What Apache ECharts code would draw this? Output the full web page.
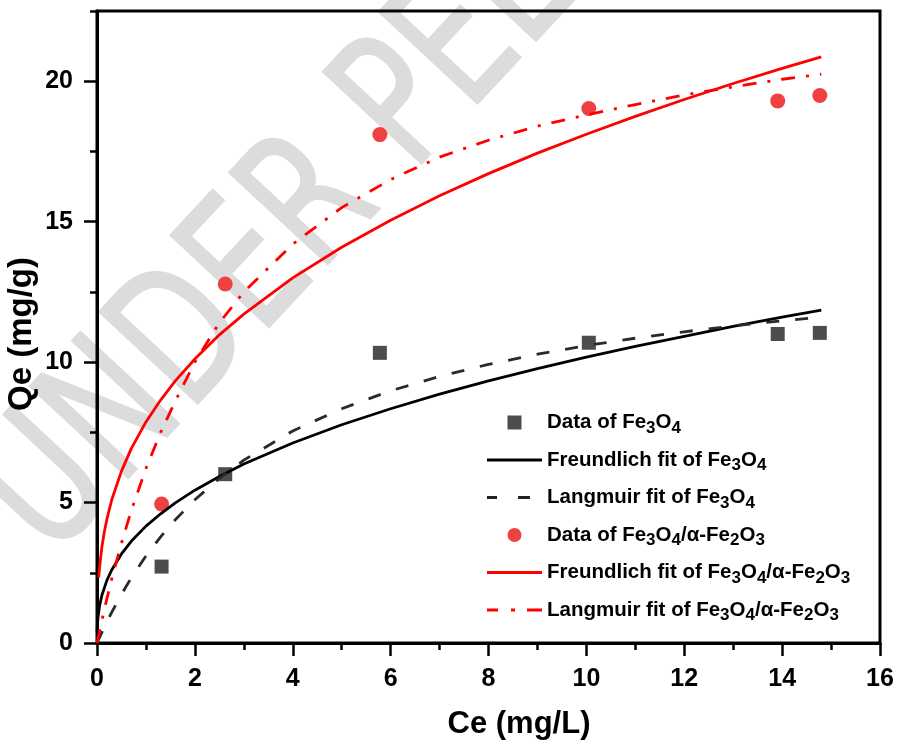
<!DOCTYPE html>
<html>
<head>
<meta charset="utf-8">
<script src="https://cdn.jsdelivr.net/npm/echarts@6/dist/echarts.min.js"></script>
<style>
html,body{margin:0;padding:0;background:#fff;}
#chart{width:898px;height:748px;}
</style>
</head>
<body>
<div id="chart"></div>
<script>
// ---- data ----
const ceData = [1.32, 2.62, 5.78, 10.05, 13.91, 14.77];
const qeFe3O4 = [2.72, 6.01, 10.33, 10.69, 11.00, 11.04];
const qeComposite = [4.95, 12.78, 18.10, 19.03, 19.30, 19.49];

const freundFe3O4X = [0.002,0.005,0.01,0.02,0.05,0.1,0.2,0.3,0.5,0.7,1,1.3,1.6,2,2.5,3,4,5,6,7,8,9,10,11,12,13,14,14.8];
const freundFe3O4Y = [0.37,0.53,0.69,0.91,1.30,1.70,2.22,2.60,3.17,3.62,4.16,4.60,4.99,5.44,5.93,6.37,7.12,7.77,8.34,8.86,9.33,9.77,10.18,10.56,10.92,11.27,11.60,11.85];

const langFe3O4X = [0,0.1,0.2,0.3,0.5,0.7,1,1.3,1.6,2,2.5,3,4,5,6,7,8,9,10,11,12,13,14,14.8];
const langFe3O4Y = [0,0.38,0.75,1.09,1.73,2.32,3.10,3.78,4.39,5.10,5.86,6.51,7.55,8.34,8.98,9.49,9.92,10.28,10.59,10.85,11.08,11.29,11.47,11.60];

const freundCompX = [0.035,0.05,0.1,0.15,0.2,0.3,0.5,0.7,1,1.3,1.6,2,2.5,3,4,5,6,7,8,9,10,11,12,13,14,14.8];
const freundCompY = [2.34,2.66,3.42,3.96,4.39,5.09,6.12,6.92,7.87,8.65,9.33,10.11,10.97,11.71,13.00,14.09,15.05,15.92,16.71,17.44,18.11,18.75,19.35,19.92,20.46,20.87];

const langCompX = [0,0.1,0.2,0.3,0.5,0.7,1,1.3,1.6,2,2.5,3,4,5,6,7,8,9,10,11,12,13,14,14.8];
const langCompY = [0,0.81,1.56,2.27,3.56,4.71,6.21,7.50,8.61,10.00,11.40,12.50,14.20,15.50,16.50,17.30,17.90,18.40,18.80,19.17,19.51,19.80,20.07,20.25];

const seriesNames = [
  'Data of Fe3O4',
  'Freundlich fit of Fe3O4',
  'Langmuir fit of Fe3O4',
  'Data of Fe3O4/α-Fe2O3',
  'Freundlich fit of Fe3O4/α-Fe2O3',
  'Langmuir fit of Fe3O4/α-Fe2O3'
];
const xTicks = [0, 2, 4, 6, 8, 10, 12, 14, 16];
const yTicks = [0, 5, 10, 15, 20];

function pairs(xs, ys) { return xs.map((x, i) => [x, ys[i]]); }

const FONT = '"Liberation Sans", Arial, Helvetica, sans-serif';
const chart = echarts.init(document.getElementById('chart'), null, {renderer: 'canvas'});

function legendText(name) {
  return '{t|' + name.replace(/(\d)/g, '}{s|$1}{t|') + '}';
}

// legend icon shapes (filled paths, 55px wide boxes)
const ICON_SQUARE = 'path://M0,0H14V14H0Z';
const ICON_SOLID = 'path://M0,0H55V3H0Z';
const ICON_DASH = 'path://M0,0H10V3H0Z M31,0H43V3H31Z M55,0L55,3';
const ICON_DASHDOT = 'path://M0,0H11V3H0Z M24,0H28V3H24Z M40,0H55V3H40Z';

const option = {
  backgroundColor: '#ffffff',
  animation: false,
  grid: {
    left: 97, right: 18, top: 11, bottom: 105,
    show: true, borderColor: '#000', borderWidth: 3, backgroundColor: 'transparent'
  },
  xAxis: [{
    type: 'value', min: 0, max: 16, interval: 2,
    axisLine: {show: true, onZero: false, lineStyle: {color: '#000', width: 3}},
    axisTick: {show: true, inside: false, length: 13, lineStyle: {color: '#000', width: 2.5}},
    minorTick: {show: true, splitNumber: 2, length: 7, lineStyle: {color: '#000', width: 2.5}},
    splitLine: {show: false},
    axisLabel: {
      margin: 24, color: '#000', fontSize: 25, fontWeight: 'bold', fontFamily: FONT,
      customValues: xTicks
    }
  }],
  yAxis: [{
    type: 'value', min: 0, max: 22.5, interval: 5,
    axisLine: {show: true, onZero: false, lineStyle: {color: '#000', width: 3}},
    axisTick: {show: true, inside: false, length: 13, lineStyle: {color: '#000', width: 2.5}, customValues: yTicks},
    splitLine: {show: false},
    axisLabel: {
      margin: 24, color: '#000', fontSize: 25, fontWeight: 'bold', fontFamily: FONT,
      customValues: yTicks,
      formatter: v => (yTicks.indexOf(v) >= 0 ? String(v) : '')
    }
  }, {
    type: 'value', min: 0, max: 22.5, interval: 2.5, position: 'left',
    axisLine: {show: false},
    axisTick: {show: true, inside: false, length: 7, lineStyle: {color: '#000', width: 2.5}},
    axisLabel: {show: false},
    splitLine: {show: false}
  }],
  legend: {
    orient: 'vertical', left: 487, top: 412, padding: 0,
    itemWidth: 55, itemHeight: 14, itemGap: 13,
    selectedMode: false,
    data: [
      {name: seriesNames[0], icon: ICON_SQUARE, itemStyle: {color: '#4d4d4d', borderWidth: 0}},
      {name: seriesNames[1], icon: ICON_SOLID, itemStyle: {color: '#000', borderWidth: 0}},
      {name: seriesNames[2], icon: ICON_DASH, itemStyle: {color: '#222', borderWidth: 0}},
      {name: seriesNames[3], icon: 'circle', itemStyle: {color: '#ef4141', borderWidth: 0}},
      {name: seriesNames[4], icon: ICON_SOLID, itemStyle: {color: '#ff0000', borderWidth: 0}},
      {name: seriesNames[5], icon: ICON_DASHDOT, itemStyle: {color: '#ff0000', borderWidth: 0}}
    ],
    formatter: legendText,
    textStyle: {
      color: '#000', fontFamily: FONT, fontWeight: 'bold', fontSize: 20.5,
      rich: {
        t: {color: '#000', fontFamily: FONT, fontWeight: 'bold', fontSize: 20.5, lineHeight: 28},
        s: {color: '#000', fontFamily: FONT, fontWeight: 'bold', fontSize: 17, lineHeight: 14, verticalAlign: 'bottom'}
      }
    }
  },
  graphic: [
    {
      type: 'text', z: -10, silent: true,
      x: 16, y: 528, rotation: 47 * Math.PI / 180, scaleX: 0.735,
      style: {
        text: 'UNDER PEER REVIEW', fill: '#dcdcdc', stroke: '#dcdcdc', lineWidth: 2,
        fontFamily: '"DejaVu Sans", sans-serif', fontSize: 185, fontWeight: 'normal',
        textAlign: 'left', textVerticalAlign: 'middle'
      }
    },
    {
      type: 'text', silent: true, x: 519, y: 724,
      style: {
        text: 'Ce (mg/L)', fill: '#000', fontFamily: FONT, fontWeight: 'bold', fontSize: 31,
        textAlign: 'center', textVerticalAlign: 'middle'
      }
    },
    {
      type: 'text', silent: true, x: 22, y: 334, rotation: Math.PI / 2,
      style: {
        text: 'Qe (mg/g)', fill: '#000', fontFamily: FONT, fontWeight: 'bold', fontSize: 33,
        textAlign: 'center', textVerticalAlign: 'middle'
      }
    }
  ],
  series: [
    {
      name: seriesNames[0], type: 'scatter', symbol: 'rect', symbolSize: 14,
      itemStyle: {color: '#4d4d4d', opacity: 1},
      data: pairs(ceData, qeFe3O4)
    },
    {
      name: seriesNames[1], type: 'line', showSymbol: false, symbol: 'none', smooth: false,
      lineStyle: {color: '#000', width: 2.8, type: 'solid'},
      itemStyle: {color: '#000'},
      data: pairs(freundFe3O4X, freundFe3O4Y)
    },
    {
      name: seriesNames[2], type: 'line', showSymbol: false, symbol: 'none', smooth: false,
      lineStyle: {color: '#2a2a2a', width: 2.8, type: [13, 16]},
      itemStyle: {color: '#2a2a2a'},
      data: pairs(langFe3O4X, langFe3O4Y)
    },
    {
      name: seriesNames[3], type: 'scatter', symbol: 'circle', symbolSize: 15,
      itemStyle: {color: '#ef4141', opacity: 1},
      data: pairs(ceData, qeComposite)
    },
    {
      name: seriesNames[4], type: 'line', showSymbol: false, symbol: 'none', smooth: false,
      lineStyle: {color: '#ff0000', width: 2.8, type: 'solid'},
      itemStyle: {color: '#ff0000'},
      data: pairs(freundCompX, freundCompY)
    },
    {
      name: seriesNames[5], type: 'line', showSymbol: false, symbol: 'none', smooth: false,
      lineStyle: {color: '#ff0000', width: 2.8, type: [14, 11, 3, 11]},
      itemStyle: {color: '#ff0000'},
      data: pairs(langCompX, langCompY)
    }
  ]
};
chart.setOption(option);
</script>
</body>
</html>
